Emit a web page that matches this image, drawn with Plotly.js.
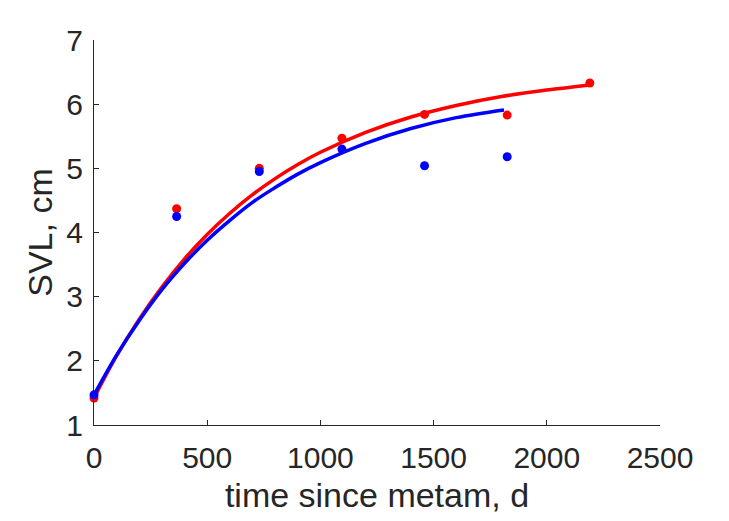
<!DOCTYPE html>
<html>
<head>
<meta charset="utf-8">
<script src="https://cdn.plot.ly/plotly-3.0.1.min.js"></script>
<style>html,body{margin:0;padding:0;background:#fff;}#chart{width:729px;height:521px;}</style>
</head>
<body>
<div id="chart"></div>
<script>
// observed data (days since metamorphosis, SVL cm)
var obsDays = [0, 365, 730, 1095, 1460, 1825, 2190];
var redObs = [1.42, 4.37, 5.00, 5.47, 5.84, 5.83, 6.33];
var blueDays = [0, 365, 730, 1095, 1460, 1825];
var blueObs = [1.47, 4.25, 4.95, 5.30, 5.04, 5.18];

// fitted curves
var redCurveDays = [0, 100, 200, 300, 400, 500, 600, 700, 800, 900, 1000, 1200, 1400, 1600, 1800, 2000, 2190];
var redCurve = [1.42, 2.08, 2.65, 3.15, 3.59, 3.97, 4.30, 4.59, 4.84, 5.06, 5.25, 5.56, 5.80, 5.98, 6.12, 6.22, 6.30];
var blueCurveDays = [0, 100, 200, 300, 400, 500, 600, 700, 800, 900, 1000, 1200, 1400, 1600, 1811];
var blueCurve = [1.47, 2.09, 2.63, 3.11, 3.52, 3.88, 4.19, 4.47, 4.70, 4.91, 5.09, 5.39, 5.62, 5.79, 5.91];

var xTicks = [0, 500, 1000, 1500, 2000, 2500];
var yTicks = [1, 2, 3, 4, 5, 6, 7];

var RED = '#ff0000', BLUE = '#0000ff', INK = '#262626';
var FONT = 'Liberation Sans, Arial, sans-serif';

var traces = [
  {x: redCurveDays, y: redCurve, mode: 'lines', line: {color: RED, width: 3.5, shape: 'spline'}, hoverinfo: 'skip'},
  {x: blueCurveDays, y: blueCurve, mode: 'lines', line: {color: BLUE, width: 3.5, shape: 'spline'}, hoverinfo: 'skip'},
  {x: obsDays, y: redObs, mode: 'markers', marker: {color: RED, size: 9}, cliponaxis: false},
  {x: blueDays, y: blueObs, mode: 'markers', marker: {color: BLUE, size: 9}, cliponaxis: false}
];

var layout = {
  width: 729, height: 521,
  paper_bgcolor: '#fff', plot_bgcolor: '#fff',
  showlegend: false,
  margin: {l: 94, r: 69, t: 40, b: 96},
  font: {family: FONT, color: INK, size: 30},
  xaxis: {
    range: [0, 2500], tickvals: xTicks, ticktext: xTicks.map(String),
    showline: true, linecolor: INK, linewidth: 1, mirror: false,
    ticks: 'inside', ticklen: 5, tickcolor: INK, tickwidth: 1,
    showgrid: false, zeroline: false, ticklabelstandoff: 6,
    tickfont: {family: FONT, size: 30, color: INK},
    title: {text: 'time since metam, d', font: {family: FONT, size: 34, color: INK}, standoff: 10}
  },
  yaxis: {
    range: [1, 7], tickvals: yTicks, ticktext: yTicks.map(String),
    showline: true, linecolor: INK, linewidth: 1, mirror: false,
    ticks: 'inside', ticklen: 5, tickcolor: INK, tickwidth: 1,
    showgrid: false, zeroline: false, ticklabelstandoff: 4,
    tickfont: {family: FONT, size: 30, color: INK},
    title: {text: 'SVL, cm', font: {family: FONT, size: 34, color: INK}, standoff: 3}
  }
};

Plotly.newPlot('chart', traces, layout, {displayModeBar: false, staticPlot: true});
</script>
</body>
</html>
